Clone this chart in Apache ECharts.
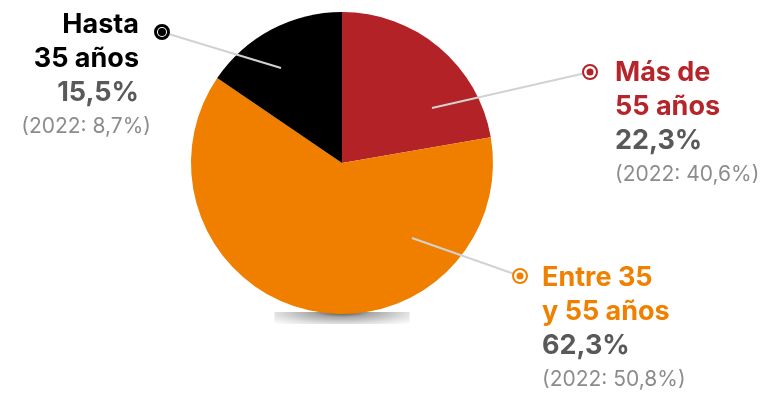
<!DOCTYPE html>
<html><head><meta charset="utf-8">
<script src="https://cdn.jsdelivr.net/npm/echarts@6/dist/echarts.min.js"></script>
<style>html,body{margin:0;padding:0;background:#fff}#c{width:764px;height:393px}</style>
</head><body><div id="c"></div>
<script>
// ---- data ----
const categories = ['Más de\n55 años', 'Entre 35\ny 55 años', 'Hasta\n35 años'];
const values = [22.3, 62.3, 15.5];
const prevYear = '2022';
const prevValues = ['40,6%', '50,8%', '8,7%'];
const sliceColors = ['#B22226', '#F07F00', '#000000'];
const nameColors = ['#B5252B', '#F08000', '#000000'];

// ---- layout (positions of annotations only) ----
const CX = 342, CY = 163, R = 151;
const textPos = [
  {x: 615, y: 56, align: 'left'},
  {x: 542, y: 261, align: 'left'},
  {x: 151, y: 8, align: 'right'}
];
const markerPos = [[590, 72], [520, 276], [162, 32]];
const innerPos = [[432, 108], [412, 238], [281, 68]];
const FONT = 'Inter';

function fmt(v) { return v.toFixed(1).replace('.', ',') + '%'; }

const mainData = categories.map((c, i) => {
  const lines = c.split('\n');
  const right = textPos[i].align === 'right';
  const pad = right ? [0, 12, 0, 0] : 0;
  return {
    name: c, value: values[i],
    itemStyle: {color: sliceColors[i]},
    label: {
      formatter: lines.map(l => '{n|' + l + '}').join('\n') + '\n{p|' + fmt(values[i]) + '}\n{q|(' + prevYear + ': ' + prevValues[i] + ')}',
      rich: {
        n: {fontFamily: FONT, fontWeight: 'bold', fontSize: 27, lineHeight: 34, color: nameColors[i], padding: pad},
        p: {fontFamily: FONT, fontWeight: 'bold', fontSize: 27, lineHeight: 34, color: '#595959', padding: pad},
        q: {fontFamily: FONT, fontWeight: 'normal', fontSize: 21, lineHeight: 34, color: '#8c8c8c'}
      }
    }
  };
});

const markerData = categories.map((c, i) => {
  const isBlack = i === 2;
  return {
    name: c, value: values[i],
    itemStyle: {color: 'rgba(0,0,0,0)'},
    label: {
      formatter: '{d|}',
      backgroundColor: '#fff',
      borderColor: sliceColors[i],
      borderWidth: isBlack ? 3 : 2,
      borderRadius: 10,
      padding: isBlack ? 1 : 2.5,
      rich: {d: {width: isBlack ? 8 : 7, height: isBlack ? 8 : 7, lineHeight: isBlack ? 8 : 7, fontSize: 6,
                 borderRadius: 5, backgroundColor: sliceColors[i]}}
    }
  };
});

const chart = echarts.init(document.getElementById('c'));
chart.setOption({
  animation: false,
  backgroundColor: '#fff',
  graphic: [{
    type: 'rect', z: 0,
    x: CX - 67.5, y: CY + R - 2,
    scaleX: 135 / 24,
    shape: {x: 0, y: 0, width: 24, height: 12},
    style: {
      fill: {type: 'radial', x: 0.5, y: 0, r: 1.4, colorStops: [
        {offset: 0, color: 'rgba(0,0,0,0.75)'},
        {offset: 0.3, color: 'rgba(0,0,0,0.35)'},
        {offset: 0.7, color: 'rgba(0,0,0,0.12)'},
        {offset: 1, color: 'rgba(0,0,0,0)'}
      ]}
    },
    silent: true
  }],
  series: [{
    type: 'pie', z: 2,
    center: [CX, CY], radius: [0, R],
    startAngle: 90, clockwise: true,
    avoidLabelOverlap: false,
    silent: true,
    label: {show: true, position: 'outside'},
    labelLine: {show: false},
    labelLayout: function (p) {
      const t = textPos[p.dataIndex];
      return {x: t.x, y: t.y, align: t.align, verticalAlign: 'top'};
    },
    emphasis: {disabled: true},
    data: mainData
  }, {
    type: 'pie', z: 3,
    center: [CX, CY], radius: [0, R],
    startAngle: 90, clockwise: true,
    avoidLabelOverlap: false,
    silent: true,
    label: {show: true, position: 'outside'},
    labelLine: {show: true, smooth: false, lineStyle: {color: '#d2d2d2', width: 2}},
    labelLayout: function (p) {
      const m = markerPos[p.dataIndex], s = innerPos[p.dataIndex];
      return {x: m[0], y: m[1], align: 'center', verticalAlign: 'middle',
              labelLinePoints: [s, [(s[0] + m[0]) / 2, (s[1] + m[1]) / 2], m]};
    },
    emphasis: {disabled: true},
    data: markerData
  }]
});
</script></body></html>
